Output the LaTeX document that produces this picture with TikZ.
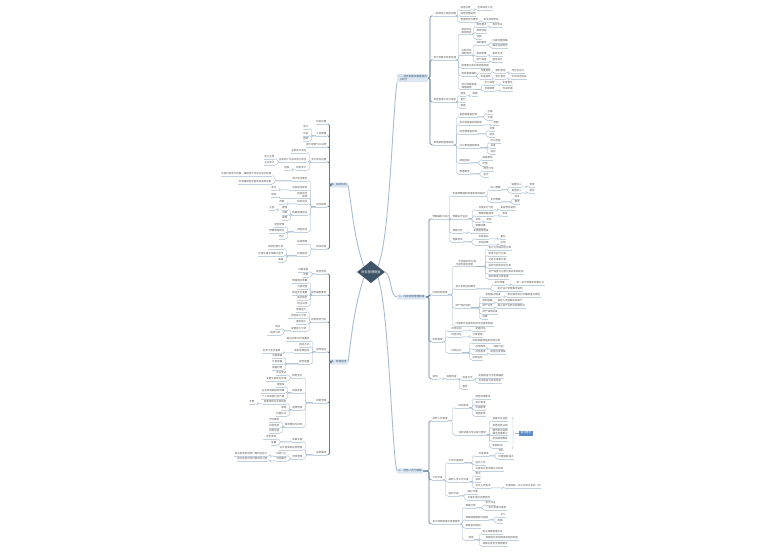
\documentclass[tikz,border=0pt]{standalone}
\usepackage{fontspec}
\setmainfont{Noto Sans CJK SC}
\usetikzlibrary{shapes.geometric,decorations.pathreplacing}
\definecolor{tx}{HTML}{5A5A5A}
\definecolor{ulc}{HTML}{C2CFDD}
\definecolor{cnc}{HTML}{9FB4CA}
\definecolor{cn2c}{HTML}{5F7E9E}
\definecolor{trc}{HTML}{A8BCD1}
\definecolor{boxc}{HTML}{DCE7F3}
\definecolor{boxt}{HTML}{334E6B}
\definecolor{ctrc}{HTML}{3E5368}
\definecolor{sumc}{HTML}{5D8DC8}
\definecolor{icc}{HTML}{F2C230}
\tikzset{
  lf/.style={font=\fontsize{2.5}{3}\selectfont, text=tx, inner xsep=0.4pt, inner ysep=0.5pt, align=left},
  ul/.style={draw=ulc, line width=0.3pt},
  cn/.style={draw=cnc, line width=0.35pt, rounded corners=1.2pt},
  cn2/.style={draw=cn2c, line width=0.55pt, rounded corners=1.5pt},
  trunk/.style={draw=trc, line width=0.9pt},
  lvl/.style={fill=boxc, text=boxt, font=\fontsize{2.6}{3.2}\selectfont, inner xsep=1.2pt, inner ysep=1.3pt, align=left, rounded corners=0.4pt},
  ctrbox/.style={diamond, fill=ctrc, text=white, font=\fontsize{3.2}{3.6}\selectfont, minimum width=28pt, minimum height=16pt, inner sep=0pt},
  sumbox/.style={fill=sumc, text=white, font=\fontsize{2.6}{3}\selectfont, inner xsep=1.5pt, inner ysep=1.3pt}
}
\newcommand\ic{{\color{icc}\textbullet}\,}
\newcommand\RC[5]{\node[lf,anchor=west] (#1) at (#3,#4) {#5};\draw[ul] (#1.south west) -- (#1.south east);\draw[cn] (#1.south west) -- ++(-2.5,0) |- (#2.south east);}
\newcommand\RB[5]{\node[lf,anchor=west] (#1) at (#3,#4) {#5};\draw[ul] (#1.south west) -- (#1.south east);\draw[cn2] (#1.south west) -- ++(-3,0) |- (#2.east);}
\newcommand\LC[5]{\node[lf,anchor=east,align=right] (#1) at (#3,#4) {#5};\draw[ul] (#1.south west) -- (#1.south east);\draw[cn] (#1.south east) -- ++(2.5,0) |- (#2.south west);}
\newcommand\LB[5]{\node[lf,anchor=east,align=right] (#1) at (#3,#4) {#5};\draw[ul] (#1.south west) -- (#1.south east);\draw[cn2] (#1.south east) -- ++(2.5,0) |- (#2.west);}
\begin{document}
\begin{tikzpicture}[x=1pt,y=-1pt]
\fill[white] (0,0) rectangle (771,552);
\useasboundingbox (0,0) rectangle (771,552);
% center and level-1
\node[ctrbox] (ctr) at (371,272) {财务管理制度};
\node[lvl,anchor=west] (R1) at (397,78) {一、财务制度及数据规范\\（试行）};
\node[lvl,anchor=west] (R2) at (397,297) {二、内部控制管理制度};
\node[lvl,anchor=west] (R3) at (397,471) {三、财务人员与档案};
\node[lvl,anchor=east] (L1) at (348,185) {四、组织机构};
\node[lvl,anchor=east] (L2) at (348,362) {五、财务报告};
\draw[trunk] (ctr.north east) .. controls (390,235) and (392,120) .. (R1.south west);
\draw[trunk] (ctr.east) .. controls (392,276) and (390,297) .. (R2.west);
\draw[trunk] (ctr.south east) .. controls (389,310) and (392,455) .. (R3.west);
\draw[trunk] (ctr.north west) .. controls (354,240) and (351,200) .. (L1.east);
\draw[trunk] (ctr.south west) .. controls (353,310) and (350,350) .. (L2.east);
% ===== R1 =====
\RB{a}{R1}{433}{14}{一般规定与适用范围}
\RC{a1}{a}{460}{8}{适用对象}
\RC{a1a}{a1}{477}{8}{全体财务人员}
\RC{a2}{a}{460}{14}{适用范围说明}
\RC{a3}{a}{460}{20}{管理原则与要求}
\RC{a3a}{a3}{483}{20}{依法合规原则}
\RB{b}{R1}{433}{58}{会计核算与账务处理}
\RC{b1}{b}{461}{31}{原始凭证\\审核规定}
\RC{b1a}{b1}{476}{25}{审核要点}
\RC{b1a1}{b1a}{492}{25}{真实合法}
\RC{b1b}{b1}{476}{31}{审核流程}
\RC{b1c}{b1}{476}{37}{归档}
\RC{b2}{b}{461}{52}{记账凭证\\填制规范}
\RC{b2a}{b2}{476}{43}{填制要求}
\RC{b2a1}{b2a}{492}{41}{内容完整准确}
\RC{b2a2}{b2a}{492}{46}{编号连续规范}
\RC{b2b}{b2}{476}{54}{审核签章}
\RC{b2b1}{b2b}{492}{54}{复核无误}
\RC{b2c}{b2}{476}{60}{装订保管}
\RC{b2c1}{b2c}{492}{60}{按月装订}
\RC{b3}{b}{461}{66}{账簿登记及对账结账规定}
\RC{b4}{b}{461}{74}{财务报表编制}
\RC{b4a}{b4}{480}{71}{月度报表}
\RC{b4a1}{b4a}{495}{71}{按时报送}
\RC{b4a2}{b4a1}{511}{71}{月后五日内}
\RC{b4b}{b4}{480}{77}{年度报表}
\RC{b4b1}{b4b}{495}{77}{审计报告}
\RC{b4b2}{b4b1}{511}{77}{次年四月底前}
\RC{b5}{b}{461}{86}{会计档案管理\\保管期限}
\RC{b5a}{b5}{484}{83}{永久保管}
\RC{b5a1}{b5a}{502}{83}{年度报告}
\RC{b5b}{b5}{484}{89}{定期保管}
\RC{b5b1}{b5b}{502}{89}{凭证账簿}
\RB{c}{R1}{433}{100}{资金管理与支付审批}
\RC{c1}{c}{460}{94}{现金}
\RC{c1a}{c1}{472}{94}{限额}
\RC{c2}{c}{460}{100}{银行}
\RC{c3}{c}{460}{106}{票据}
\RB{d}{R1}{433}{143}{费用报销管理规定}
\RC{d1}{d}{459}{115}{差旅费报销标准}
\RC{d1a}{d1}{487}{112}{住宿}
\RC{d1b}{d1}{487}{118}{交通}
\RC{d2}{d}{459}{123}{会议费报销标准规定}
\RC{d2a}{d2}{493}{123}{限额}
\RC{d3}{d}{459}{132}{招待费报销标准}
\RC{d3a}{d3}{489}{129}{标准}
\RC{d3b}{d3}{489}{135}{审批}
\RC{d4}{d}{459}{146}{办公费用报销规定}
\RC{d4a}{d4}{490}{141}{办公用品}
\RC{d4b}{d4}{490}{146}{设备}
\RC{d4c}{d4}{490}{152}{耗材}
\RC{d5}{d}{459}{161}{报销流程}
\RC{d5a}{d5}{482}{158}{填单审核}
\RC{d5b}{d5}{482}{164}{时限}
\RC{d6}{d}{459}{172}{票据要求}
\RC{d6a}{d6}{483}{169}{附件齐全}
\RC{d6b}{d6}{483}{175}{签字}
% ===== R2 =====
\RB{e}{R2}{432}{217}{预算编制与执行}
\RC{e1}{e}{452}{194}{年度预算编制依据及审批程序}
\RC{e1a}{e1}{490}{188}{收入预算}
\RC{e1a1}{e1a}{511}{185}{销售收入}
\RC{e1a1a}{e1a1}{529}{185}{按季}
\RC{e1a2}{e1a}{511}{191}{其他收入}
\RC{e1a2a}{e1a2}{529}{191}{按月}
\RC{e1b}{e1}{490}{200}{支出预算}
\RC{e1b1}{e1b}{514}{197}{成本}
\RC{e1b2}{e1b}{514}{202}{费用}
\RC{e2}{e}{452}{217}{预算执行监控}
\RC{e2a}{e2}{475}{208}{\ic 月度执行分析}
\RC{e2a1}{e2a}{500}{208}{差异原因说明}
\RC{e2b}{e2}{475}{214}{\ic 预算调整程序}
\RC{e2b1}{e2b}{502}{214}{审批}
\RC{e2c}{e2}{475}{220}{考核}
\RC{e2c1}{e2c}{486}{220}{奖惩}
\RC{e2d}{e2}{475}{226}{预算结果}
\RC{e3}{e}{452}{231}{预算分析}
\RC{e3a}{e3}{470}{231}{\ic 定期报告制度}
\RC{e4}{e}{452}{240}{预算考核}
\RC{e4a}{e4}{475}{237}{\ic 考核指标}
\RC{e4a1}{e4a}{500}{237}{量化}
\RC{e4b}{e4}{475}{243}{\ic 考核结果}
\RC{e4b1}{e4b}{500}{243}{应用}
\RB{f}{R2}{432}{293}{内部控制制度}
\RC{f1}{f}{455}{263}{\ic 不相容岗位分离\\与授权审批控制}
\RC{f1a}{f1}{488}{248}{会计与出纳岗位分离}
\RC{f1b}{f1}{488}{254}{审批与执行分离}
\RC{f1c}{f1}{488}{260}{记录与审核分离}
\RC{f1d}{f1}{488}{266}{采购与验收岗位分离}
\RC{f1e}{f1}{488}{272}{资产保管与记录分离并定期轮岗}
\RC{f1f}{f1}{488}{277}{授权审批分级管理}
\RC{f2}{f}{455}{287}{会计系统控制要求}
\RC{f2a}{f2}{494}{283}{会计政策}
\RC{f2a1}{f2a}{513}{283}{\ic 统一会计政策及核算方法}
\RC{f2b}{f2}{494}{289}{\ic 会计估计变更事项说明}
\RC{f3}{f}{455}{306}{财产保护控制}
\RC{f3a}{f3}{482}{295}{\ic 定期盘点制度}
\RC{f3a1}{f3a}{507}{295}{账实相符核对并编制盘点报告}
\RC{f3b}{f3}{482}{301}{限制接触}
\RC{f3b1}{f3b}{497}{301}{授权人员接触实物资产}
\RC{f3c}{f3}{482}{306}{财产记录}
\RC{f3c1}{f3c}{497}{306}{建立资产台账并定期核对}
\RC{f3d}{f3}{482}{312}{财产保险制度}
\RC{f3e}{f3}{482}{317}{处置}
\RC{f4}{f}{455}{324}{内部审计监督及风险评估报告制度}
\RB{g}{R2}{432}{340}{风险管理}
\RC{g1}{g}{448}{329}{\ic 风险识别}
\RC{g1a}{g1}{472}{329}{\ic 定期评估}
\RC{g2}{g}{448}{335}{\ic 风险评估}
\RC{g2a}{g2}{472}{335}{分级管理}
\RC{g3}{g}{448}{351}{\ic 风险应对}
\RC{g3a}{g3}{472}{341}{风险规避措施及实施方案}
\RC{g3b}{g3}{472}{347}{\ic 风险降低}
\RC{g3b1}{g3b}{490}{347}{\ic 转移分担}
\RC{g3c}{g3}{472}{352}{\ic 风险承受}
\RC{g3c1}{g3c}{490}{352}{制定应急预案}
\RC{g3d}{g3}{472}{358}{风险监控}
\RB{h}{R2}{432}{377}{其他}
\RC{h1}{h}{446}{377}{监督检查}
\RC{h1a}{h1}{462}{378}{检查方式}
\RC{h1a1}{h1a}{478}{376}{定期检查与不定期抽查}
\RC{h1a2}{h1a}{478}{381}{专项检查与综合检查}
\RC{h1b}{h1}{462}{387}{整改}
% ===== R3 =====
\RB{i}{R3}{432}{419}{财务人员管理}
\RC{i1}{i}{455}{406}{\ic 岗位职责}
\RC{i1a}{i1}{475}{397}{财务经理职责}
\RC{i1b}{i1}{475}{403}{会计职责}
\RC{i1c}{i1}{475}{408}{出纳职责}
\RC{i1d}{i1}{475}{414}{稽核职责}
\RC{i2}{i}{455}{433}{\ic 任职资格与专业能力要求}
\RC{i2a}{i2}{492}{419}{具备专业技能}
\RC{i2b}{i2}{492}{426}{熟悉财经法规}
\RC{i2c}{i2}{492}{432}{遵守职业道德\\廉洁自律奉公}
\RC{i2d}{i2}{492}{439}{参加继续教育}
\RC{i2e}{i2}{492}{446}{定期轮岗}
\draw[cnc, line width=0.35pt, decorate, decoration={brace,amplitude=2pt}] (512,417) -- (512,449);
\coordinate (bt) at (514.5,433);
\node[sumbox,anchor=west] (S) at (519,433) {重点要求};
\draw[cn] (bt) -- (S.west);
\RB{j}{R3}{432}{478}{工作交接}
\RC{j1}{j}{448}{461}{工作交接程序}
\RC{j1a}{j1}{475}{454}{\ic 交接清单}
\RC{j1a1}{j1a}{498}{451}{资料}
\RC{j1a2}{j1a}{498}{457}{印章钥匙清点}
\RC{j1b}{j1}{475}{463}{监交人员}
\RC{j1c}{j1}{475}{469}{交接双方签字确认并存档}
\RC{j2}{j}{448}{480}{离职人员工作交接}
\RC{j2a}{j2}{475}{474}{移交}
\RC{j2b}{j2}{475}{480}{接收}
\RC{j2c}{j2}{475}{486}{监交人员签字}
\RC{j2c1}{j2c}{505}{486}{交接清册一式三份双方各执一份}
\RC{j3}{j}{448}{494}{临时交接}
\RC{j3a}{j3}{467}{492}{临时代理}
\RC{j3b}{j3}{467}{498}{交接手续应完整规范}
\RB{k}{R3}{432}{522}{会计档案管理与保管要求}
\RC{k1}{k}{465}{506}{档案分类}
\RC{k1a}{k1}{485}{503}{会计凭证}
\RC{k1b}{k1}{485}{508}{\ic 会计账簿与报表}
\RC{k2}{k}{465}{518}{档案保管期限与销毁}
\RC{k2a}{k2}{497}{515}{\ic 永久}
\RC{k2b}{k2}{497}{521}{定期}
\RC{k3}{k}{465}{526}{档案查阅借阅}
\RC{k4}{k}{465}{538}{\ic 其他}
\RC{k4a}{k4}{482}{532}{电子档案管理办法}
\RC{k4b}{k4}{482}{538}{\ic 档案移交及销毁审批程序规定}
\RC{k4c}{k4}{482}{544}{档案信息安全保密要求}
% ===== L1 =====
\LB{m}{L1}{327}{122}{机构设置}
\LB{n}{L1}{327}{134}{人员配置}
\LC{n1}{n}{309}{127}{会计}
\LC{n2}{n}{309}{134}{出纳}
\LC{n3}{n}{309}{139}{稽核}
\LB{o}{L1}{327}{145}{部门职责分工说明}
\LB{p}{L1}{327}{160}{会计岗位设置}
\LC{p1}{p}{307}{151}{总账会计岗位}
\LC{p2}{p}{307}{160}{往来会计与成本会计岗位}
\LC{p2a}{p2}{275}{157}{会计主管}
\LC{p2b}{p2}{275}{163}{主办会计}
\LC{p3}{p}{307}{168}{税务会计}
\LC{p3a}{p3}{290}{168}{报税}
\LB{q}{L1}{327}{205}{岗位职责}
\LC{q1}{q}{308}{179}{会计岗位要求}
\LC{q1a}{q1}{272}{174}{负责日常会计核算，编制会计凭证并登记账簿}
\LC{q1b}{q1}{272}{182}{负责编制财务报表及纳税申报}
\LC{q2}{q}{308}{188}{\ic 出纳岗位职责}
\LC{q2a}{q2}{277}{188}{收付}
\LC{q3}{q}{308}{195}{\ic 稽核岗位\\职责}
\LC{q3a}{q3}{277}{195}{审核}
\LC{q4}{q}{308}{202}{税务岗位}
\LC{q4a}{q4}{285}{202}{申报}
\LC{q5}{q}{308}{213}{档案管理岗位}
\LC{q5a}{q5}{288}{208}{整理}
\LC{q5a1}{q5a}{275}{208}{立卷}
\LC{q5b}{q5}{288}{213}{归档}
\LC{q5c}{q5}{288}{218}{保管}
\LC{q6}{q}{308}{230}{\ic 其他岗位}
\LC{q6a}{q6}{285}{225}{资金管理}
\LC{q6b}{q6}{285}{231}{预算管理岗位}
\LC{q6c}{q6}{285}{237}{统计}
\LB{r}{L1}{327}{247}{\ic 岗位轮换}
\LC{r1}{r}{308}{242}{轮换周期}
\LC{r2}{r}{308}{254}{轮换程序}
\LC{r2a}{r2}{284}{247}{制定轮换计划}
\LC{r2b}{r2}{284}{254}{办理交接手续确认签字}
\LC{r2c}{r2}{284}{260}{备案}
% ===== L2 =====
\LB{s}{L2}{327}{272}{报告类型}
\LC{s1}{s}{309}{270}{月报季报}
\LC{s2}{s}{309}{275}{年报}
\LB{t}{L2}{327}{293}{报告编制要求}
\LC{t1}{t}{308}{281}{数据真实准确}
\LC{t2}{t}{308}{287}{内容完整}
\LC{t3}{t}{308}{293}{报送及时准确}
\LC{t4}{t}{308}{298}{格式规范}
\LC{t5}{t}{308}{304}{附注说明}
\LB{u}{L2}{327}{320}{财务报告分析}
\LC{u1}{u}{307}{310}{偿债能力}
\LC{u2}{u}{307}{316}{\ic 营运能力分析}
\LC{u3}{u}{307}{322}{盈利能力}
\LC{u4}{u}{307}{329}{发展能力分析}
\LC{u4a}{u4}{281}{327}{增长}
\LC{u4b}{u4}{281}{333}{\ic 趋势分析}
\LB{v}{L2}{327}{350}{报告报送}
\LC{v1}{v}{310}{339}{报送对象与时间要求}
\LC{v2}{v}{310}{345}{报送方式}
\LC{v3}{v}{310}{351}{审批签章程序}
\LC{v3a}{v3}{281}{351}{负责人签字盖章}
\LC{v4}{v}{310}{362}{报告披露}
\LC{v4a}{v4}{283}{356}{内部披露}
\LC{v4b}{v4}{283}{362}{外部披露}
\LC{v4c}{v4}{283}{368}{披露时限}
\LB{w}{L2}{327}{401}{\ic 税务管理}
\LC{w1}{w}{303}{376}{税务登记}
\LC{w1a}{w1}{287}{373}{开业登记}
\LC{w1b}{w1}{287}{379}{变更注销登记办理}
\LC{w2}{w}{303}{391}{纳税申报}
\LC{w2a}{w2}{285}{385}{增值税}
\LC{w2b}{w2}{285}{391}{企业所得税按季预缴}
\LC{w2c}{w2}{285}{397}{个人所得税代扣代缴}
\LC{w3}{w}{303}{408}{发票管理}
\LC{w3a}{w3}{287}{402}{发票领购与开具规定}
\LC{w3a1}{w3a}{255}{402}{专票}
\LC{w3b}{w3}{287}{408}{保管}
\LC{w3c}{w3}{287}{414}{作废红冲}
\LC{w4}{w}{303}{425}{税务筹划与风险}
\LC{w4a}{w4}{280}{420}{合法筹划}
\LC{w4b}{w4}{280}{426}{风险防范}
\LC{w4c}{w4}{280}{431}{税务检查}
\LB{x}{L2}{327}{453}{\ic 其他事项}
\LC{x1}{x}{303}{440}{关联交易}
\LC{x1a}{x1}{277}{437}{\ic 定价原则}
\LC{x1b}{x1}{277}{443}{披露}
\LC{x2}{x}{303}{448}{对外担保及投资管理}
\LC{x3}{x}{303}{457}{合同管理}
\LC{x3a}{x3}{287}{454}{\ic 合同订立}
\LC{x3a1}{x3a}{268}{454}{经法务及财务部门审核后签订}
\LC{x3b}{x3}{287}{459}{合同履行}
\LC{x3b1}{x3b}{268}{459}{按约定及时收付款项并对账}
\end{tikzpicture}
\end{document}
